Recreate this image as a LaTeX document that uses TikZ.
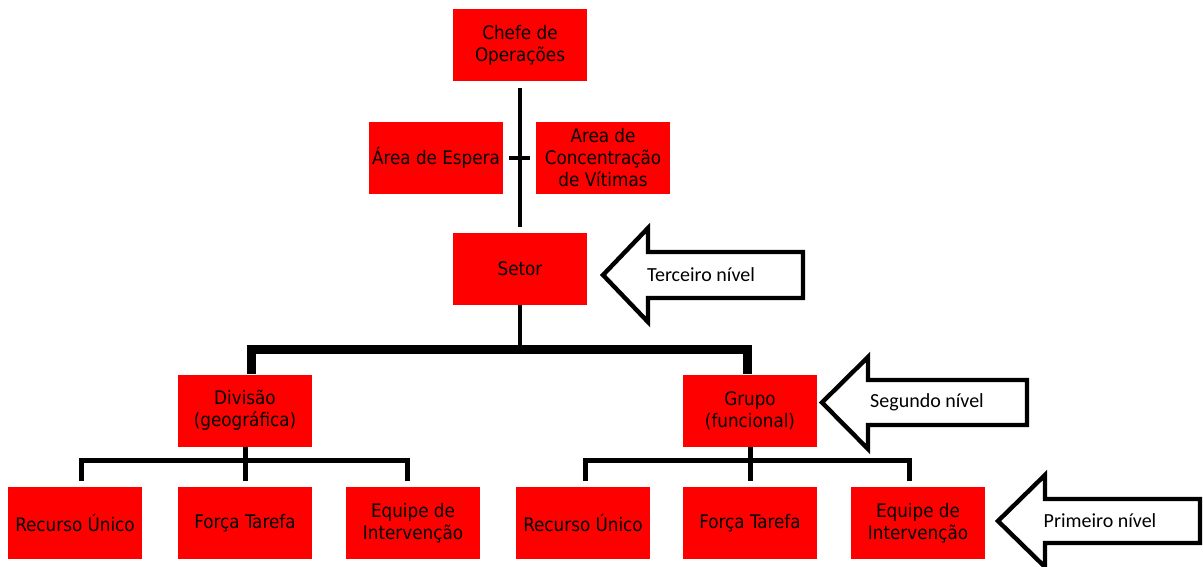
\documentclass[tikz,border=0pt]{standalone}
\usepackage{fontspec}
\setmainfont{DejaVu Sans Condensed}
\newfontfamily\arrowfont{Carlito}

\tikzset{
  unit/.style={fill=red, minimum width=100.5pt, minimum height=54pt, align=center,
    inner sep=0pt, font=\fontsize{14}{16.5}\selectfont},
  conn/.style={line width=3pt},
  subline/.style={line width=3.75pt},
  barline/.style={line width=6.75pt},
  levelarrow/.style={line width=3.3pt, fill=white},
  leveltext/.style={font=\arrowfont\fontsize{15}{18}\selectfont}
}

\begin{document}
\begin{tikzpicture}[x=0.75pt, y=-0.75pt]
\useasboundingbox (0,0) rectangle (1203,567);

% top of the command
\node[unit] (chefe) at (520,45.5) {Chefe de\\Operações};
\node[unit] (espera) at (436,157.5) {Área de Espera};
\node[unit] (concentracao) at (603,157.5) {Area de\\Concentração\\de Vítimas};
\node[unit] (setor) at (520,269) {Setor};

\draw[conn] ([yshift=-4.5pt]chefe.south) -- ([yshift=4.5pt]setor.north);
\draw[conn, shorten <=4.5pt, shorten >=4.5pt] (espera.east) -- (concentracao.west);

% second level
\node[unit] (divisao) at (245,410.5) {Divisão\\(geográfica)};
\node[unit] (grupo) at (750,410.5) {Grupo\\(funcional)};

\draw[conn] (setor.south) -- ++(0,44.5);
\draw[barline] ([xshift=5pt]divisao.north) -- ++(0,-24.5) -| ([xshift=-2pt]grupo.north);

% first level
\node[unit] (recursoA) at (75,523) {Recurso Único};
\node[unit] (forcaA) at (245,523) {Força Tarefa};
\node[unit] (equipeA) at (413,523) {Equipe de\\Intervenção};

\node[unit] (recursoB) at (583,523) {Recurso Único};
\node[unit] (forcaB) at (750,523) {Força Tarefa};
\node[unit] (equipeB) at (918,523) {Equipe de\\Intervenção};

\draw[subline] (divisao.south) -- ([yshift=4.5pt]forcaA.north);
\draw[subline] ([xshift=4.5pt,yshift=4.5pt]recursoA.north) -- ++(0,-20)
  -| ([xshift=-4.5pt,yshift=4.5pt]equipeA.north);

\draw[subline] (grupo.south) -- ([yshift=4.5pt]forcaB.north);
\draw[subline] ([xshift=2pt,yshift=4.5pt]recursoB.north) -- ++(0,-20)
  -| ([xshift=-6.75pt,yshift=4.5pt]equipeB.north);

% level arrows
\draw[levelarrow] (603,275) -- (648,228) -- (648,252) -- (803,252) -- (803,298)
  -- (648,298) -- (648,322) -- cycle;
\node[leveltext] (terceiro) at (701,275) {Terceiro nível};

\draw[levelarrow] (822,402.5) -- (868,357) -- (868,380) -- (1027,380) -- (1027,425)
  -- (868,425) -- (868,449) -- cycle;
\node[leveltext] (segundo) at (927,402.5) {Segundo nível};

\draw[levelarrow] (998,521) -- (1045,475) -- (1045,499) -- (1200,499) -- (1200,543)
  -- (1045,543) -- (1045,567) -- cycle;
\node[leveltext] (primeiro) at (1100,521) {Primeiro nível};

\end{tikzpicture}
\end{document}
